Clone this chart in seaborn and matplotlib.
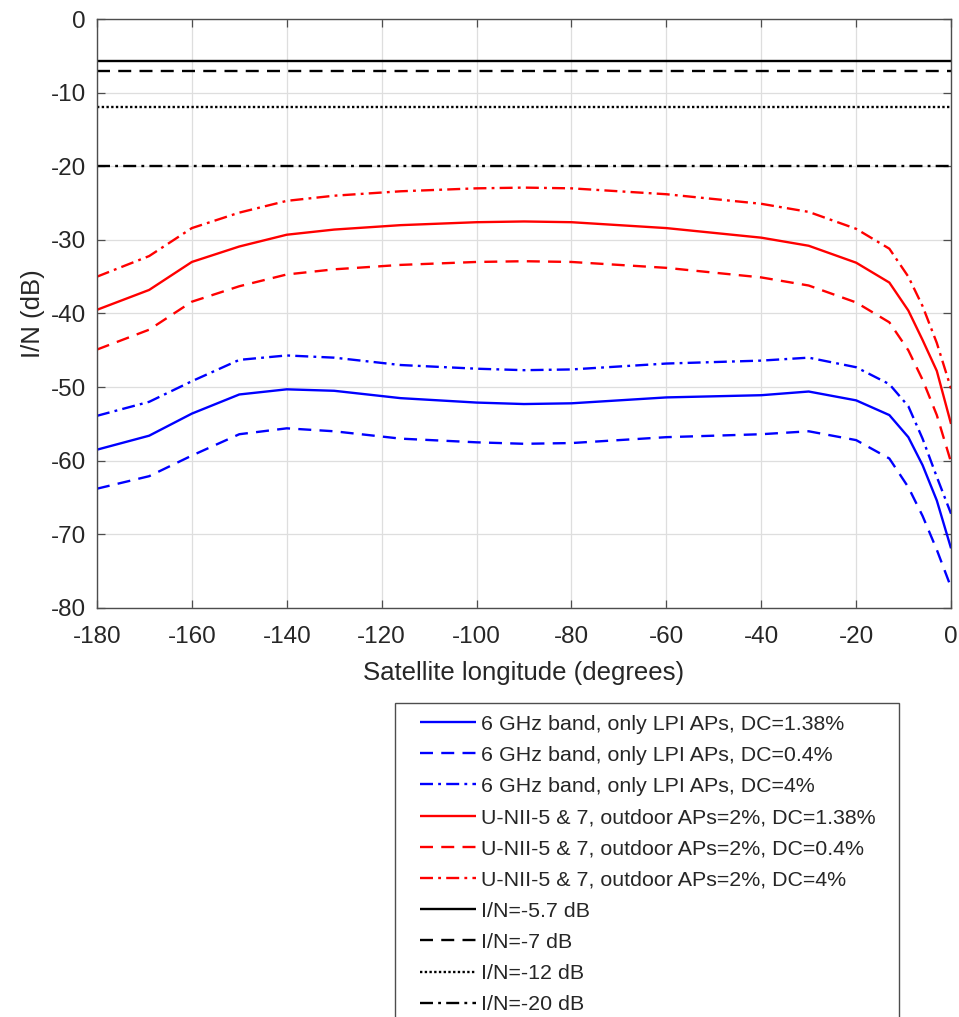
import numpy as np
import pandas as pd
import matplotlib
matplotlib.use("Agg")
import matplotlib.pyplot as plt
from matplotlib.legend_handler import HandlerLine2D
import seaborn as sns

# Satellite longitude sample points (degrees)
longitude = [-180, -169, -160, -150, -140, -130, -116, -100, -90, -80,
             -60, -40, -30, -20, -13, -9, -6, -3, 0]

# 6 GHz band, only LPI APs
lpi_dc138 = [-58.5, -56.6, -53.6, -51.0, -50.3, -50.5, -51.5, -52.1, -52.3, -52.2,
             -51.4, -51.1, -50.6, -51.8, -53.8, -56.8, -60.6, -65.4, -71.9]
lpi_dc04 = [-63.8, -62.1, -59.3, -56.4, -55.6, -56.0, -57.0, -57.5, -57.7, -57.6,
            -56.8, -56.4, -56.0, -57.2, -59.7, -63.6, -67.5, -72.1, -77.2]
lpi_dc4 = [-53.9, -52.0, -49.2, -46.3, -45.7, -46.0, -47.0, -47.5, -47.7, -47.6,
           -46.8, -46.4, -46.0, -47.3, -49.6, -52.6, -57.0, -62.2, -67.2]

# U-NII-5 & 7 with 2% outdoor APs
unii_dc138 = [-39.5, -36.8, -33.0, -30.9, -29.3, -28.6, -28.0, -27.6, -27.5, -27.6,
              -28.4, -29.7, -30.8, -33.1, -35.8, -39.6, -43.6, -47.8, -55.0]
unii_dc04 = [-44.9, -42.2, -38.4, -36.3, -34.7, -34.0, -33.4, -33.0, -32.9, -33.0,
             -33.8, -35.1, -36.2, -38.5, -41.2, -45.0, -49.0, -53.8, -60.2]
unii_dc4 = [-35.0, -32.2, -28.4, -26.3, -24.7, -24.0, -23.4, -23.0, -22.9, -23.0,
            -23.8, -25.1, -26.2, -28.5, -31.2, -35.0, -39.0, -44.0, -50.2]

# Protection criteria (I/N thresholds, dB)
thresholds = [-5.7, -7, -12, -20]
threshold_labels = ["I/N=-5.7 dB", "I/N=-7 dB", "I/N=-12 dB", "I/N=-20 dB"]

series_labels = [
    "6 GHz band, only LPI APs, DC=1.38%",
    "6 GHz band, only LPI APs, DC=0.4%",
    "6 GHz band, only LPI APs, DC=4%",
    "U-NII-5 & 7, outdoor APs=2%, DC=1.38%",
    "U-NII-5 & 7, outdoor APs=2%, DC=0.4%",
    "U-NII-5 & 7, outdoor APs=2%, DC=4%",
]
series_values = [lpi_dc138, lpi_dc04, lpi_dc4, unii_dc138, unii_dc04, unii_dc4]

x_ticks = [-180, -160, -140, -120, -100, -80, -60, -40, -20, 0]
y_ticks = [0, -10, -20, -30, -40, -50, -60, -70, -80]

sns.set_theme(style="white")
plt.rcParams["font.family"] = ["Liberation Sans", "DejaVu Sans"]
plt.rcParams["axes.unicode_minus"] = False

SOLID = (0, ())
DASHED = (0, (5.5, 3.5))
DOTTED = (0, (1, 1))
DASHDOT = (0, (5.5, 2.2, 1.2, 2.2))

styles = [
    ("#0000ff", SOLID), ("#0000ff", DASHED), ("#0000ff", DASHDOT),
    ("#ff0000", SOLID), ("#ff0000", DASHED), ("#ff0000", DASHDOT),
]
thr_styles = [SOLID, DASHED, DOTTED, DASHDOT]


class IndentedLineHandler(HandlerLine2D):
    """Legend line sample drawn only over the right part of the handle box."""

    def __init__(self, sample_frac, **kw):
        super().__init__(**kw)
        self.sample_frac = sample_frac

    def create_artists(self, legend, orig_handle, xdescent, ydescent,
                       width, height, fontsize, trans):
        artists = super().create_artists(legend, orig_handle, xdescent, ydescent,
                                         width, height, fontsize, trans)
        for a in artists:
            xd = np.asarray(a.get_xdata(), dtype=float)
            if xd.size >= 2:
                x1 = xd.max()
                x0 = x1 - width * self.sample_frac
                a.set_xdata(np.linspace(x0, x1, xd.size))
        return artists


fig = plt.figure(figsize=(9.59, 10.17), dpi=100)
ax = fig.add_axes([0.1011, 0.4022, 0.8906, 0.5791])

lw = 1.7
for label, vals, (color, ls) in zip(series_labels, series_values, styles):
    df = pd.DataFrame({"lon": longitude, "in": vals})
    sns.lineplot(data=df, x="lon", y="in", ax=ax, color=color, linestyle=ls,
                 linewidth=lw, label=label, sort=False)

for label, val, ls in zip(threshold_labels, thresholds, thr_styles):
    df = pd.DataFrame({"lon": [-180, 0], "in": [val, val]})
    sns.lineplot(data=df, x="lon", y="in", ax=ax, color="black", linestyle=ls,
                 linewidth=lw, label=label, sort=False)

ax.set_xlim(-180, 0)
ax.set_ylim(-80, 0)
ax.set_xticks(x_ticks)
ax.set_yticks(y_ticks)
ax.grid(True, color="#dedede", linewidth=0.9)
ax.set_axisbelow(True)

text_color = "#262626"
for sp in ax.spines.values():
    sp.set_color("#4d4d4d")
    sp.set_linewidth(1.0)
ax.tick_params(axis="both", which="both", direction="in", length=6, width=0.9,
               color="#4d4d4d", labelsize=17.5, labelcolor=text_color,
               top=True, right=True, bottom=True, left=True)
ax.tick_params(axis="x", pad=13)
ax.tick_params(axis="y", pad=8)
ax.set_xlabel("Satellite longitude (degrees)", fontsize=18.5, color=text_color, labelpad=9)
ax.set_ylabel("I/N (dB)", fontsize=18.5, color=text_color, labelpad=4)

fs = 15.4
handle_len = 3.22
sample_len = 2.62
leg_left, leg_top, leg_width = 0.412, 0.309, 0.5255
handles, labels = ax.get_legend_handles_labels()
leg = ax.legend(handles, labels, loc="upper left",
                bbox_to_anchor=(leg_left, leg_top - 0.35, leg_width, 0.35),
                bbox_transform=fig.transFigure, mode="expand", fontsize=fs,
                frameon=True, fancybox=False, framealpha=1, edgecolor="#4d4d4d",
                handlelength=handle_len, handletextpad=0.23, labelspacing=0.57,
                borderpad=0.55, borderaxespad=0,
                handler_map={h: IndentedLineHandler(sample_len / handle_len)
                             for h in handles})
leg.get_frame().set_linewidth(1.0)
for t in leg.get_texts():
    t.set_color(text_color)

fig.savefig("out.png", dpi=100)
